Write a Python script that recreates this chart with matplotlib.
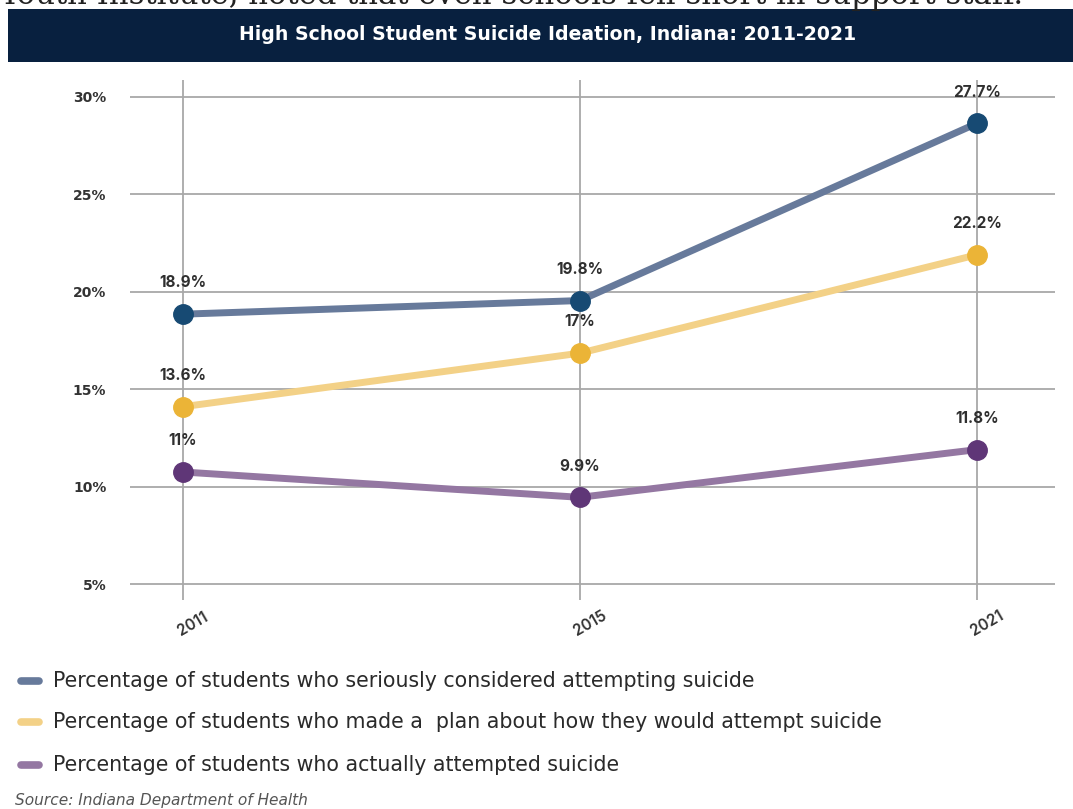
import matplotlib
matplotlib.use("Agg")
import matplotlib.pyplot as plt
from matplotlib.patches import Rectangle
from matplotlib.lines import Line2D

years = ["2011", "2015", "2021"]
considered = [18.85, 19.55, 28.65]
planned = [14.1, 16.85, 21.9]
attempted = [10.75, 9.45, 11.9]
considered_labels = ["18.9%", "19.8%", "27.7%"]
planned_labels = ["13.6%", "17%", "22.2%"]
attempted_labels = ["11%", "9.9%", "11.8%"]
y_ticks = [5, 10, 15, 20, 25, 30]
series_names = [
    "Percentage of students who seriously considered attempting suicide",
    "Percentage of students who made a  plan about how they would attempt suicide",
    "Percentage of students who actually attempted suicide",
]
title = "High School Student Suicide Ideation, Indiana: 2011-2021"
source = "Source: Indiana Department of Health"
cutoff_text = "Youth Institute, noted that even schools fell short in support staff."

W, H = 1073, 809
fig = plt.figure(figsize=(W / 100, H / 100), dpi=100)
fig.patch.set_facecolor("white")
renderer = fig.canvas.get_renderer()


def fx(px):
    return px / W


def fy(py):
    return 1 - py / H


def fit_width(t, target_px):
    bb = t.get_window_extent(renderer=renderer)
    t.set_fontsize(t.get_fontsize() * target_px / bb.width)


# cut-off serif text at very top
t = fig.text(fx(-1), fy(4), cutoff_text, fontsize=22, family="DejaVu Serif",
             color="#222222", va="baseline", ha="left")
fit_width(t, 1027)

# title banner
fig.patches.append(Rectangle((fx(8), fy(62)), 1 - fx(8), (62 - 9) / H,
                             transform=fig.transFigure, facecolor="#08203f",
                             edgecolor="none", zorder=0))
t = fig.text(fx(548), fy(34), title, fontsize=13.5, fontweight="bold",
             family="DejaVu Sans", color="white", ha="center", va="center")
fit_width(t, 615)

ax = fig.add_axes([fx(130), fy(600), fx(1055) - fx(130), (600 - 80) / H])
x = list(range(len(years)))
ax.set_xlim(-0.133, 2.196)
ax.set_ylim(4.18, 30.87)
for s in ax.spines.values():
    s.set_visible(False)
ax.set_yticks(y_ticks)
ax.set_yticklabels([f"{v}%" for v in y_ticks], fontsize=10, color="#333333",
                   family="DejaVu Sans", fontweight="bold")
ax.set_xticks(x)
ax.set_xticklabels([])
for xi, yr in zip(x, years):
    ax.annotate(yr, (xi, 0), xycoords=("data", "axes fraction"),
                xytext=(7, -17), textcoords="offset points", rotation=30,
                ha="center", va="center", fontsize=11, color="#333333",
                family="Inter", fontweight="semibold", annotation_clip=False)
ax.tick_params(axis="both", length=0)
ax.tick_params(axis="y", pad=17)
ax.grid(True, color="#a8a8a8", linewidth=1.3)
ax.set_axisbelow(True)

series = [
    (considered, considered_labels, "#677a9b", "#174a73"),
    (planned, planned_labels, "#f3d187", "#ebb437"),
    (attempted, attempted_labels, "#9477a2", "#5f3677"),
]
for vals, labels, lc, mc in series:
    ax.plot(x, vals, color=lc, linewidth=5, solid_capstyle="round", zorder=3)
    ax.plot(x, vals, linestyle="none", marker="o", markersize=14,
            markerfacecolor=mc, markeredgecolor=mc, zorder=4)
    for xi, v, lab in zip(x, vals, labels):
        ax.annotate(lab, (xi, v), xytext=(0, 22.5), textcoords="offset points",
                    ha="center", va="center", fontsize=11, fontweight="bold",
                    family="Inter", color="#2f2f2f", zorder=5)

# legend
leg_y = [681, 722, 765]
first = None
for (vals, labels, lc, mc), name, yy in zip(series, series_names, leg_y):
    fig.add_artist(Line2D([fx(21), fx(39)], [fy(yy), fy(yy)], color=lc,
                          linewidth=5.5, solid_capstyle="round",
                          transform=fig.transFigure))
    t = fig.text(fx(53), fy(yy), name, fontsize=13, family="DejaVu Sans",
                 color="#2a2a2a", ha="left", va="center")
    if first is None:
        first = t
fit_width(first, 702)
for t in fig.texts[-3:]:
    t.set_fontsize(first.get_fontsize())

t = fig.text(fx(15), fy(801), source, fontsize=8.5, family="DejaVu Sans",
             style="italic", color="#555555", ha="left", va="center")
fit_width(t, 294)

fig.savefig("out.png", dpi=100, facecolor="white")
